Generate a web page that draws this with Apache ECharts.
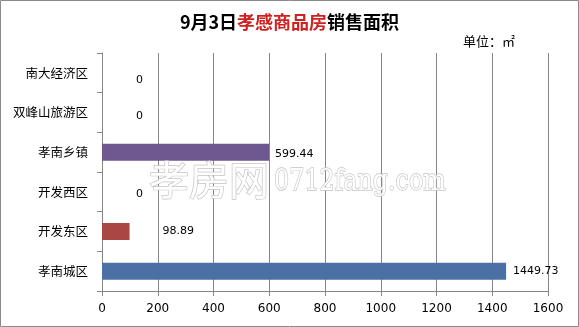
<!DOCTYPE html>
<html><head><meta charset="utf-8">
<script src="https://cdn.jsdelivr.net/npm/echarts@6/dist/echarts.min.js"></script>
<style>html,body{margin:0;padding:0;background:#fff}#c{width:579px;height:327px}</style>
</head><body><div id="c"></div>
<script>
const categories = ['孝南城区','开发东区','开发西区','孝南乡镇','双峰山旅游区','南大经济区'];
const values = [1449.73, 98.89, 0, 599.44, 0, 0];
const xTicks = [0,200,400,600,800,1000,1200,1400,1600];
const barColors = ['#4A70A6','#A94745','#89A54E','#6F5790','#3D96AE','#DB843D'];
const labelGaps = [7, 33, 34, 6, 34, 34];
const labelDy = [0, 0, 2, 2, 4, 7];

const chart = echarts.init(document.getElementById('c'));
const cjk = '"Noto Sans CJK SC", sans-serif';
chart.setOption({
  animation: false,
  backgroundColor: '#fff',
  grid: {left: 102, right: 31, top: 53, bottom: 36},
  title: {
    text: '{b|9月3日}{r|孝感商品房}{b|销售面积}',
    left: 'center', top: 8,
    textStyle: {rich: {
      b: {fontSize: 18, fontWeight: 'bold', color: '#000', fontFamily: cjk},
      r: {fontSize: 18, fontWeight: 'bold', color: '#D02020', fontFamily: cjk}
    }}
  },
  graphic: [
    {type: 'rect', shape: {x: 0.5, y: 0.5, width: 578, height: 326}, style: {fill: 'none', stroke: '#8a8a8a', lineWidth: 1}, z: 100},
    {type: 'text', left: 463, top: 35, style: {text: '单位：㎡', fontSize: 13, fontFamily: cjk, fill: '#000'}},
    {type: 'text', x: 149, y: 160, z: 50, style: {text: '孝房网', fontSize: 40, fontFamily: cjk, fill: '#fff', stroke: '#c4c4c4', lineWidth: 1.4}},
    {type: 'text', x: 274, y: 168, scaleX: 0.82, z: 50, style: {text: '0712fang.com', fontSize: 29, fontFamily: '"DejaVu Serif", serif', fill: '#fff', stroke: '#c4c4c4', lineWidth: 1.4}}
  ],
  xAxis: {
    type: 'value', min: 0, max: 1600, interval: 200,
    axisLine: {show: true, lineStyle: {color: '#868686'}},
    axisTick: {show: true, length: 5, lineStyle: {color: '#868686'}},
    splitLine: {show: true, lineStyle: {color: '#868686'}},
    axisLabel: {color: '#000', fontSize: 12, margin: 12, fontFamily: '"DejaVu Sans", sans-serif',
      formatter: v => xTicks.includes(v) ? String(v) : ''}
  },
  yAxis: {
    type: 'category', data: categories,
    axisLine: {show: true, lineStyle: {color: '#868686'}},
    axisTick: {show: true, length: 5, lineStyle: {color: '#868686'}},
    axisLabel: {color: '#000', fontSize: 12.5, margin: 14, fontFamily: cjk}
  },
  series: [{
    type: 'bar', barWidth: 17,
    data: values.map((v, i) => ({
      value: v,
      itemStyle: {color: barColors[i]},
      label: {show: true, position: 'right', distance: labelGaps[i], offset: [0, labelDy[i]],
        color: '#000', fontSize: 11, fontFamily: '"DejaVu Sans", sans-serif',
        formatter: p => String(p.value)}
    }))
  }]
});
</script></body></html>
